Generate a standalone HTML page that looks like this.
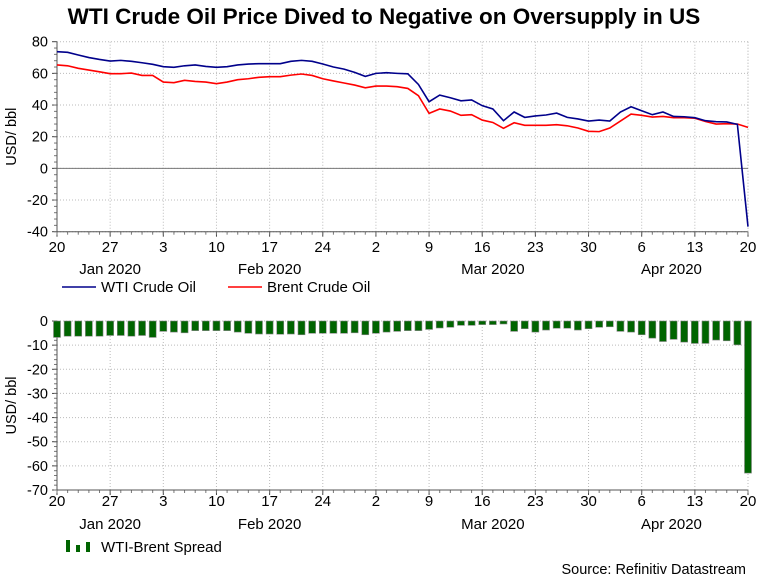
<!DOCTYPE html>
<html><head><meta charset="utf-8"><style>
body{margin:0;background:#fff;width:768px;height:579px;overflow:hidden;font-family:"Liberation Sans",Arial,sans-serif}
svg text{font-family:"Liberation Sans",Arial,sans-serif}
</style></head><body>
<svg id="chart" width="768" height="579" xmlns="http://www.w3.org/2000/svg">
<text x="384" y="24" text-anchor="middle" font-size="22.5" font-weight="bold">WTI Crude Oil Price Dived to Negative on Oversupply in US</text>
<g id="top"></g><g id="bot"></g>
<text x="746" y="574" text-anchor="end" font-size="14.5">Source: Refinitiv Datastream</text>
</svg>
<script>
const dayLabels=["20","27","3","10","17","24","2","9","16","23","30","6","13","20"];
const monthLabels=["Jan 2020","Feb 2020","Mar 2020","Apr 2020"];
const monthIdx=[5,20,41,57.8];
const wti=[73.7,73.3,71.6,70,68.8,67.8,68.2,67.6,66.7,65.7,64.2,63.8,64.8,65.3,64.4,63.8,64.2,65.3,65.9,66.1,66.1,66.1,67.6,68.2,67.6,65.9,64,62.7,60.6,58.1,60,60.4,60,59.7,53,42.1,46.3,44.6,42.7,43.2,39.6,37.5,30.1,35.6,32.2,33.1,33.7,34.9,32.2,31.2,29.9,30.5,29.9,35.6,38.9,36.4,33.9,35.6,32.8,32.6,32,30.1,29.5,29.3,27.8,-36.8];
const brent=[65.3,64.8,63.2,62.1,61,59.8,59.8,60.2,58.7,58.7,54.5,54.1,55.6,54.9,54.5,53.5,54.5,56,56.6,57.5,57.9,57.9,58.9,59.6,58.7,56.6,55.2,53.9,52.6,50.9,52,52,51.6,50.5,45.9,34.7,37.5,36.2,33.5,33.9,30.5,29,25.3,28.8,27.2,27.2,27.2,27.6,26.9,25.5,23.4,23.2,25.5,29.9,34.3,33.5,32.4,32.8,32,32,31.7,29.6,28,28.2,28,25.9];
const spread=[-6.8,-6.3,-6.3,-6.3,-6.3,-6,-6,-6.3,-6,-6.8,-4.3,-4.6,-4.9,-4,-4,-4,-4,-4.6,-5.1,-5.4,-5.4,-5.5,-5.4,-5.7,-5.1,-5.1,-5.1,-5.1,-4.9,-5.7,-5.1,-4.6,-4.3,-4,-4,-3.5,-2.9,-2.6,-1.8,-1.8,-1.5,-1.5,-1.25,-4.3,-3.2,-4.6,-3.75,-3,-3,-3.75,-3.2,-2.6,-2.4,-4.3,-4.6,-5.7,-7.1,-8.5,-7.6,-8.75,-9.3,-9.3,-7.9,-8.2,-9.9,-63];
const topTicks=[80,60,40,20,0,-20,-40];
const botTicks=[0,-10,-20,-30,-40,-50,-60,-70];
const NS="http://www.w3.org/2000/svg";
function mk(p,t,a,txt){const e=document.createElementNS(NS,t);for(const k in a)e.setAttribute(k,a[k]);if(txt!=null)e.textContent=txt;p.appendChild(e);return e;}
const L=57,R=748,N=66;
const xS=i=>L+(R-L)*i/(N-1);
function axes(g,yS,ticks,yTop,yBot,yLabY,mLabY,title){
  ticks.forEach(v=>{const y=yS(v);
    const gl=mk(g,'line',{x1:L,x2:R,y1:y,y2:y,stroke:'#bbb','stroke-dasharray':'1,2'});
    
    const t=mk(g,'text',{x:L-9,y:y+5,'text-anchor':'end','font-size':14.5},String(v));
    
    mk(g,'line',{x1:L-5,x2:L,y1:y,y2:y,stroke:'#444'});
  });
  const step=ticks[0]-ticks[1];
  for(let v=ticks[ticks.length-1];v<ticks[0];v+=step/5){mk(g,'line',{x1:L-3,x2:L,y1:yS(v),y2:yS(v),stroke:'#777'});}
  dayLabels.forEach((d,k)=>{const x=xS(k*5);
    const gl=mk(g,'line',{x1:x,x2:x,y1:yTop,y2:yBot,stroke:'#bbb','stroke-dasharray':'1,2'});
    
    mk(g,'line',{x1:x,x2:x,y1:yBot,y2:yBot+5,stroke:'#444'});
    const t=mk(g,'text',{x:x,y:yLabY,'text-anchor':'middle','font-size':15},d);
    
  });
  for(let i=0;i<N;i++)mk(g,'line',{x1:xS(i),x2:xS(i),y1:yBot,y2:yBot+3,stroke:'#777'});
  monthLabels.forEach((m,k)=>{const t=mk(g,'text',{x:xS(monthIdx[k]),y:mLabY,'text-anchor':'middle','font-size':15},m);
    });
  mk(g,'line',{x1:L,x2:L,y1:yTop,y2:yBot,stroke:'#555'});
  mk(g,'line',{x1:L,x2:R,y1:yBot,y2:yBot,stroke:'#555'});
  mk(g,'line',{x1:R,x2:R,y1:yTop,y2:yBot,stroke:'#bbb','stroke-dasharray':'1,2'});
  const yc=(yTop+yBot)/2;
  const tt=mk(g,'text',{x:16,y:yc,'text-anchor':'middle','font-size':14.5,transform:`rotate(-90 16 ${yc})`},title);
  
}
const gT=document.getElementById('top');
const yT=v=>41.7+(80-v)*(190/120);
axes(gT,yT,topTicks,yT(80),yT(-40),252,274,'USD/ bbl');
mk(gT,'line',{x1:L,x2:R,y1:yT(0),y2:yT(0),stroke:'#777'});
const pb=mk(gT,'polyline',{points:brent.map((v,i)=>xS(i)+','+yT(v)).join(' '),fill:'none',stroke:'#ff0000','stroke-width':1.6});

const pw=mk(gT,'polyline',{points:wti.map((v,i)=>xS(i)+','+yT(v)).join(' '),fill:'none',stroke:'#00008b','stroke-width':1.6});

const lg1=mk(gT,'g',{});
mk(lg1,'line',{x1:62,x2:96,y1:287,y2:287,stroke:'#00008b','stroke-width':1.6});
mk(lg1,'text',{x:101,y:292,'font-size':15},'WTI Crude Oil');
const lg2=mk(gT,'g',{});
mk(lg2,'line',{x1:228,x2:262,y1:287,y2:287,stroke:'#ff0000','stroke-width':1.6});
mk(lg2,'text',{x:267,y:292,'font-size':15},'Brent Crude Oil');
const gB=document.getElementById('bot');
const yB=v=>321+(0-v)*(169/70);
axes(gB,yB,botTicks,yB(0),yB(-70),506,529,'USD/ bbl');
spread.forEach((v,i)=>{const x=xS(i);
  const r=mk(gB,'rect',{x:x-3.5,y:yB(0),width:7,height:yB(v)-yB(0),fill:'#006400',stroke:'#888','stroke-width':0.6});
  });
const lg3=mk(gB,'g',{});
mk(lg3,'rect',{x:66,y:540,width:4,height:12,fill:'#006400'});
mk(lg3,'rect',{x:76,y:545,width:4,height:7,fill:'#006400'});
mk(lg3,'rect',{x:86,y:542,width:4,height:10,fill:'#006400'});
mk(lg3,'text',{x:101,y:552,'font-size':15},'WTI-Brent Spread');
</script>
</body></html>
